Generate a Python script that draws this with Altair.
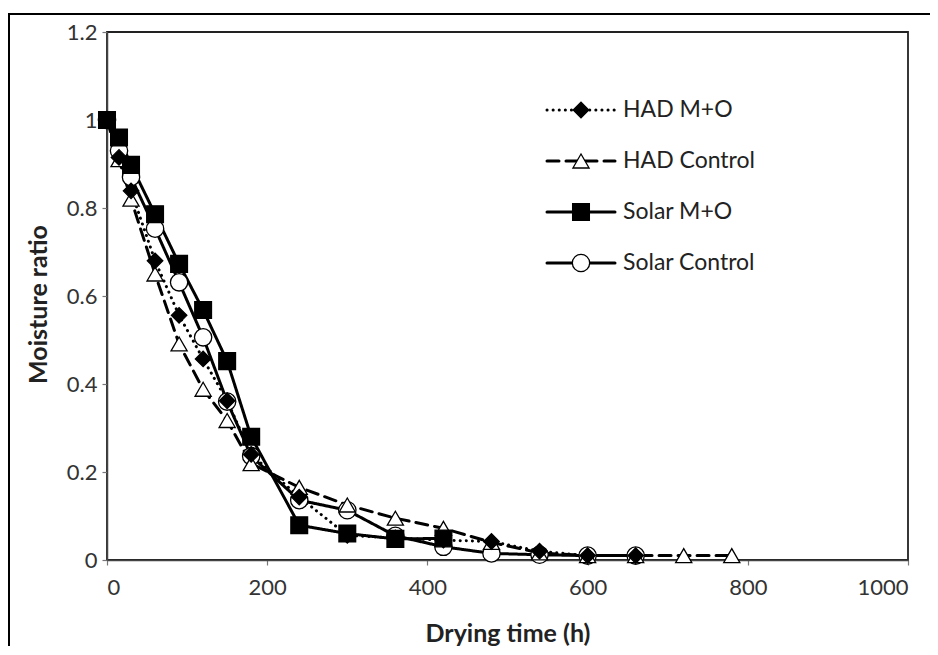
import altair as alt
import pandas as pd

series_names = ["HAD M+O", "HAD Control", "Solar M+O", "Solar Control"]

t_had_mo = [0, 15, 30, 60, 90, 120, 150, 180, 240, 300, 360, 420, 480, 540, 600, 660]
mr_had_mo = [1.0, 0.915, 0.839, 0.68, 0.556, 0.457, 0.362, 0.24, 0.143, 0.056, 0.05, 0.045, 0.042, 0.02, 0.01, 0.01]

t_had_ctrl = [0, 15, 30, 60, 90, 120, 150, 180, 240, 300, 360, 420, 480, 540, 600, 660, 720, 780]
mr_had_ctrl = [1.0, 0.91, 0.82, 0.65, 0.491, 0.388, 0.317, 0.219, 0.165, 0.125, 0.095, 0.072, 0.04, 0.016, 0.01, 0.01, 0.01, 0.01]

t_solar_mo = [0, 15, 30, 60, 90, 120, 150, 180, 240, 300, 360, 420]
mr_solar_mo = [1.0, 0.96, 0.898, 0.786, 0.673, 0.568, 0.452, 0.28, 0.079, 0.06, 0.048, 0.049]

t_solar_ctrl = [0, 15, 30, 60, 90, 120, 150, 180, 240, 300, 360, 420, 480, 540, 600, 660]
mr_solar_ctrl = [1.0, 0.93, 0.87, 0.753, 0.631, 0.506, 0.36, 0.236, 0.136, 0.113, 0.055, 0.03, 0.015, 0.012, 0.01, 0.01]

x_ticks = [0, 200, 400, 600, 800, 1000]
y_ticks = [0, 0.2, 0.4, 0.6, 0.8, 1.0, 1.2]

series_data = {
    "HAD M+O": (t_had_mo, mr_had_mo),
    "HAD Control": (t_had_ctrl, mr_had_ctrl),
    "Solar M+O": (t_solar_mo, mr_solar_mo),
    "Solar Control": (t_solar_ctrl, mr_solar_ctrl),
}
# drawing order (bottom -> top)
draw_order = ["Solar Control", "HAD Control", "HAD M+O", "Solar M+O"]

rows = []
for s in draw_order:
    ts, ms = series_data[s]
    for t, m in zip(ts, ms):
        rows.append({"series": s, "t": t, "mr": m})
df = pd.DataFrame(rows)
legend_df = pd.DataFrame({"series": series_names})

FONT = "Lato"

dash_scale = alt.Scale(domain=series_names, range=[[0.1, 6], [12, 7], [1, 0], [1, 0]])
shape_scale = alt.Scale(domain=series_names, range=["diamond", "triangle-up", "square", "circle"])
fill_scale = alt.Scale(domain=series_names, range=["black", "white", "black", "white"])
size_scale = alt.Scale(domain=series_names, range=[240, 300, 380, 300])

x_enc = alt.X("t:Q", scale=alt.Scale(domain=[0, 1000]),
              axis=alt.Axis(values=x_ticks, format="d", title="Drying time (h)", grid=False,
                            tickSize=5, labelPadding=12, titleY=73, titleBaseline="middle"))
y_enc = alt.Y("mr:Q", scale=alt.Scale(domain=[0, 1.2]),
              axis=alt.Axis(values=y_ticks, format="~g", title="Moisture ratio", grid=False,
                            tickSize=5, labelPadding=5, titleX=-69, titleY=272,
                            titleBaseline="middle"))

lines = alt.Chart(df).mark_line(color="black", strokeWidth=3, strokeCap="round").encode(
    x=x_enc, y=y_enc,
    strokeDash=alt.StrokeDash("series:N", scale=dash_scale, legend=None),
)

points = alt.Chart(df).mark_point(stroke="black", strokeWidth=1.3, opacity=1, fillOpacity=1).encode(
    x="t:Q", y="mr:Q",
    shape=alt.Shape("series:N", scale=shape_scale, legend=None),
    fill=alt.Fill("series:N", scale=fill_scale, legend=None),
    size=alt.Size("series:N", scale=size_scale, legend=None),
)

main = alt.layer(lines, points)

leg_y = alt.Y("series:N", scale=alt.Scale(type="point", domain=series_names, range=[78, 231], padding=0), axis=None)

leg_lines = alt.Chart(legend_df).mark_rule(color="black", strokeWidth=3, strokeCap="round").encode(
    x=alt.value(440), x2=alt.value(508), y=leg_y,
    strokeDash=alt.StrokeDash("series:N", scale=dash_scale, legend=None),
)
leg_points = alt.Chart(legend_df).mark_point(stroke="black", strokeWidth=1.3, opacity=1, fillOpacity=1).encode(
    x=alt.value(474), y=leg_y,
    shape=alt.Shape("series:N", scale=shape_scale, legend=None),
    fill=alt.Fill("series:N", scale=fill_scale, legend=None),
    size=alt.Size("series:N", scale=size_scale, legend=None),
)
leg_text = alt.Chart(legend_df).mark_text(align="left", baseline="middle", fontSize=23, font=FONT, color="#222").encode(
    x=alt.value(516), y=leg_y, text="series:N",
)
frame = alt.Chart(alt.Data(values=[{}])).mark_rect(fillOpacity=0, stroke="black", strokeWidth=2).encode(
    x=alt.value(-98), x2=alt.value(950), y=alt.value(-18), y2=alt.value(750),
)

legend = alt.layer(leg_lines, leg_points, leg_text, frame)

chart = alt.layer(main, legend).resolve_scale(
    y="independent"
).properties(
    width=801, height=528,
    padding={"left": 99, "top": 24, "right": 22, "bottom": 86},
    autosize=alt.AutoSizeParams(type="none"),
).configure_view(
    stroke="#222", strokeWidth=1.8
).configure_axis(
    labelFont=FONT, titleFont=FONT, labelFontSize=22, titleFontSize=25, titleFontWeight="bold",
    labelColor="#333", titleColor="#222", domainColor="#444", domainWidth=1.5,
    tickColor="#777", tickWidth=1.2,
)

chart.save("out.html", embed_options={"renderer": "svg", "actions": False})
